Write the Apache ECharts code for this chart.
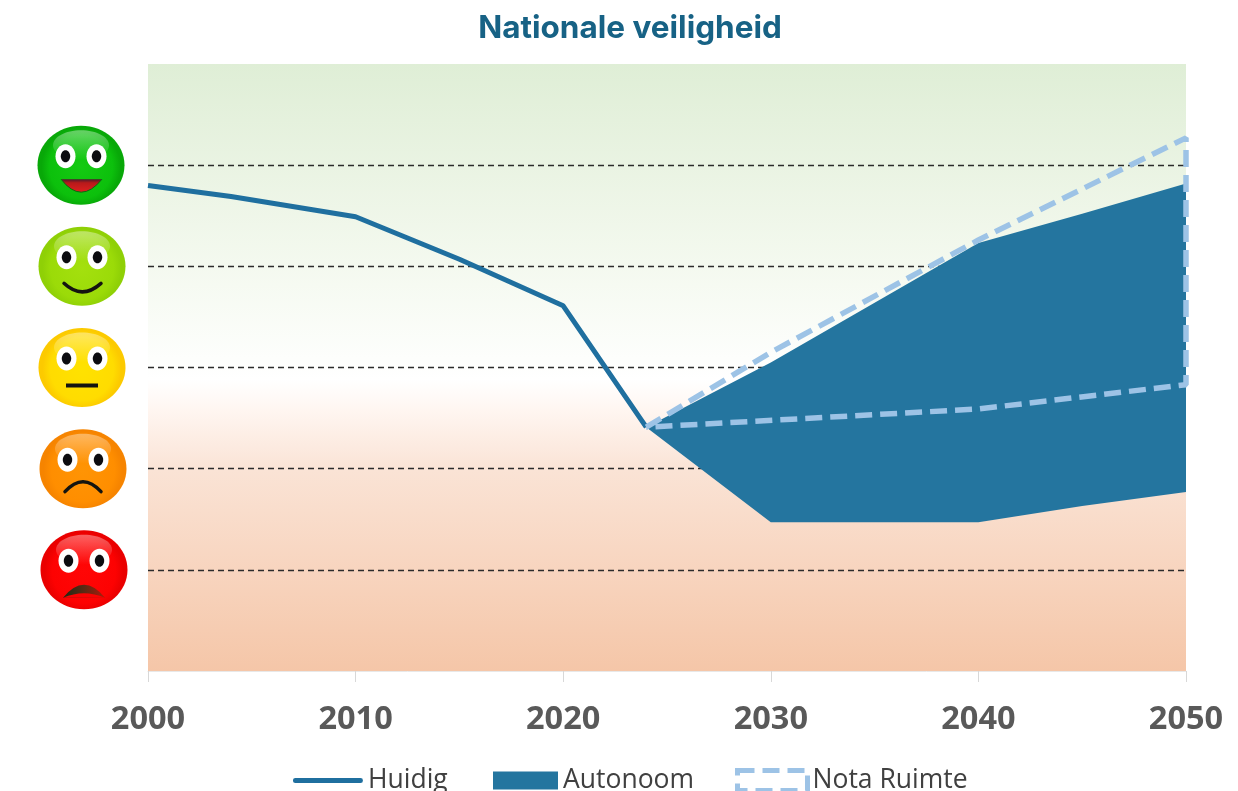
<!DOCTYPE html>
<html>
<head>
<meta charset="utf-8">
<style>html,body{margin:0;padding:0;background:#fff}#c{width:1238px;height:791px}</style>
<script src="https://cdn.jsdelivr.net/npm/echarts@6/dist/echarts.min.js"></script>
</head>
<body>
<div id="c"></div>
<script>
const titleText = 'Nationale veiligheid';
const yearTicks = [2000, 2010, 2020, 2030, 2040, 2050];
const levels = [1, 2, 3, 4, 5];
const faceNames = ['rood', 'oranje', 'geel', 'lichtgroen', 'groen'];

const huidigYears = [2000, 2004, 2010, 2015, 2020, 2024];
const huidigValues = [4.80, 4.69, 4.49, 4.07, 3.61, 2.41];

const autonoomYears = [2024, 2030, 2040, 2045, 2050];
const autonoomLower = [2.41, 1.47, 1.47, 1.63, 1.77];
const autonoomUpper = [2.41, 3.05, 4.23, 4.52, 4.82];

const notaYears = [2024, 2030, 2040, 2050, 2050, 2040, 2024];
const notaValues = [2.41, 3.15, 4.26, 5.27, 2.83, 2.59, 2.41];

const seriesNames = ['Huidig', 'Autonoom', 'Nota Ruimte'];

const pairs = (xs, ys) => xs.map((x, i) => [x, ys[i]]);
const G = echarts.graphic;

const faceStyles = {
  groen: { edge: '#08a808', mid: '#0cc00c', centre: '#14ca12', dx: -67 },
  lichtgroen: { edge: '#8fd006', mid: '#9bdb08', centre: '#a4e00e', dx: -66 },
  geel: { edge: '#fcca00', mid: '#ffdc00', centre: '#ffe200', dx: -66 },
  oranje: { edge: '#f68400', mid: '#ff8e00', centre: '#ff9404', dx: -65 },
  rood: { edge: '#ea0000', mid: '#fd0202', centre: '#ff0606', dx: -64 }
};

function ell(cx, cy, rx, ry, fill) {
  return { type: 'ellipse', shape: { cx, cy, rx, ry }, style: { fill } };
}
function curve(x1, y1, x2, y2, cpx, cpy, style) {
  return { type: 'bezierCurve', shape: { x1, y1, x2, y2, cpx1: cpx, cpy1: cpy }, style };
}
function mouth(name) {
  const stroke = { fill: 'none', stroke: '#141410', lineWidth: 3.5, lineCap: 'round' };
  if (name === 'groen') {
    return [curve(-20, 14, 21, 14, 0, 40, {
      fill: new G.LinearGradient(0, 0, 0, 1, [
        { offset: 0, color: '#3a1a30' }, { offset: 0.3, color: '#b81a1a' }, { offset: 1, color: '#e02020' }
      ]),
      stroke: '#0a6a10', lineWidth: 1
    })];
  }
  if (name === 'lichtgroen') return [curve(-18, 17, 19, 17, 0, 34, stroke)];
  if (name === 'geel') {
    return [{ type: 'line', shape: { x1: -16, y1: 18, x2: 16, y2: 18 }, style: { stroke: '#141410', lineWidth: 4 } }];
  }
  if (name === 'oranje') return [curve(-18, 23, 18, 23, 0, 3, stroke)];
  return [
    curve(-21, 28, 21, 28, 0, 2, {
      fill: new G.LinearGradient(0, 0, 1, 0, [
        { offset: 0, color: '#1d2a14' }, { offset: 0.5, color: '#5a2a14' }, { offset: 1, color: '#b01a0a' }
      ])
    }),
    curve(-21, 28, 21, 28, 0, 19, { fill: '#fb0202' })
  ];
}
function renderFace(params, api) {
  const name = faceNames[params.dataIndex];
  const s = faceStyles[name];
  const p = api.coord([api.value(0), api.value(1)]);
  const children = [
    ell(0, 0, 43.5, 39.5, new G.RadialGradient(0.5, 0.52, 0.5, [
      { offset: 0, color: s.centre }, { offset: 0.8, color: s.mid }, { offset: 1, color: s.edge }
    ])),
    ell(0, -20, 28, 15, new G.LinearGradient(0, 0, 0, 1, [
      { offset: 0, color: 'rgba(255,255,255,0.38)' }, { offset: 1, color: 'rgba(255,255,255,0)' }
    ])),
    ell(-15.5, -9, 10, 12, '#fff'),
    ell(15.5, -9, 10, 12, '#fff'),
    ell(-15.5, -9, 4.7, 6, '#0c0c10'),
    ell(15.5, -9, 4.7, 6, '#0c0c10')
  ].concat(mouth(name));
  return { type: 'group', x: p[0] + s.dx, y: p[1], children };
}
function renderBand(params, api) {
  if (params.dataIndex !== 0) return null;
  const top = autonoomYears.map((y, i) => api.coord([y, autonoomUpper[i]]));
  const bottom = autonoomYears.map((y, i) => api.coord([y, autonoomLower[i]])).reverse();
  return { type: 'polygon', shape: { points: top.concat(bottom) }, style: { fill: '#24759f' } };
}

const legendBase = {
  top: 767, padding: 0, selectedMode: false,
  textStyle: { fontFamily: 'Open Sans', fontSize: 26.5, color: '#404040' }
};

const chart = echarts.init(document.getElementById('c'));
chart.setOption({
  animation: false,
  backgroundColor: '#ffffff',
  title: {
    text: titleText,
    left: 625,
    top: 8,
    textAlign: 'center',
    textStyle: { fontFamily: 'Inter', fontWeight: 'bold', fontSize: 31.5, color: '#176285' }
  },
  grid: {
    left: 148, right: 52, top: 64, height: 607,
    show: true, borderWidth: 0,
    backgroundColor: new G.LinearGradient(0, 0, 0, 1, [
      { offset: 0, color: '#dfeed6' },
      { offset: 0.33, color: '#f4f9ef' },
      { offset: 0.52, color: '#ffffff' },
      { offset: 0.57, color: '#fff6f1' },
      { offset: 0.67, color: '#fae3d5' },
      { offset: 1, color: '#f5c6a8' }
    ])
  },
  xAxis: {
    type: 'value', min: 2000, max: 2050, interval: 10,
    splitLine: { show: false },
    axisLine: { show: true, lineStyle: { color: '#e8e8e8', width: 1 } },
    axisTick: { show: true, length: 11, lineStyle: { color: '#d8d8d8' } },
    axisLabel: {
      margin: 32, fontFamily: 'Open Sans', fontWeight: 'bold', fontSize: 32.5, color: '#595959',
      formatter: v => String(v),
      showMinLabel: true, showMaxLabel: true, hideOverlap: false
    }
  },
  yAxis: { type: 'value', min: 0, max: 6, interval: 1, show: false, splitLine: { show: false } },
  legend: [
    Object.assign({}, legendBase, {
      left: 293, itemWidth: 70, itemHeight: 16,
      data: [{
        name: seriesNames[0],
        icon: 'path://M0 0L70 0L70 0.01Z M2.5 5.5H67.5A2.5 2.5 0 0 1 67.5 10.5H2.5A2.5 2.5 0 0 1 2.5 5.5Z M0 16L70 16L70 16.01Z',
        itemStyle: { color: '#1f6f9f' }
      }]
    }),
    Object.assign({}, legendBase, {
      left: 493, itemWidth: 65, itemHeight: 18,
      data: [{ name: seriesNames[1], icon: 'rect', itemStyle: { color: '#24759f' } }]
    }),
    Object.assign({}, legendBase, {
      left: 735, itemWidth: 70, itemHeight: 20,
      data: [{ name: seriesNames[2], icon: 'rect', itemStyle: { color: 'rgba(0,0,0,0)', borderColor: '#9dc3e6', borderWidth: 5, borderType: [17, 8] } }]
    })
  ],
  series: [
    {
      name: 'levels', type: 'line', data: [], silent: true, z: 1,
      markLine: {
        silent: true, symbol: 'none', z: 1, animation: false,
        label: { show: false },
        lineStyle: { color: '#2b2b2b', width: 1.3, type: [6, 4] },
        data: levels.map(v => ({ yAxis: v }))
      }
    },
    {
      name: seriesNames[1], type: 'custom', z: 2, silent: true, clip: false,
      itemStyle: { color: '#24759f' },
      renderItem: renderBand,
      encode: { x: 0, y: 1 },
      data: pairs(autonoomYears, autonoomUpper)
    },
    {
      name: seriesNames[0], type: 'line', symbol: 'none', z: 3,
      itemStyle: { color: '#1f6f9f' },
      lineStyle: { color: '#1f6f9f', width: 5 },
      data: pairs(huidigYears, huidigValues)
    },
    {
      name: seriesNames[2], type: 'line', symbol: 'none', z: 4, clip: false,
      itemStyle: { color: '#9dc3e6' },
      lineStyle: { color: '#9dc3e6', width: 5.5, type: [17, 8] },
      data: pairs(notaYears, notaValues)
    },
    {
      name: 'faces', type: 'custom', silent: true, z: 5, clip: false,
      renderItem: renderFace,
      data: levels.map(v => [yearTicks[0], v])
    }
  ]
});
</script>
</body>
</html>
